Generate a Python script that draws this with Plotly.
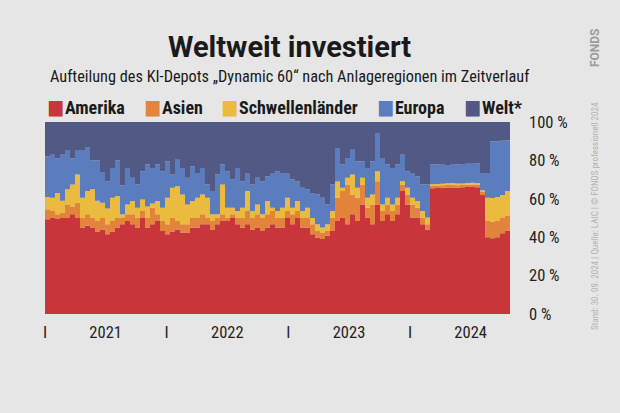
import plotly.graph_objects as go
import pandas as pd

# Shares (%) per region, half-monthly steps from Jan 2021
amerika = [49.3, 50.0, 49.5, 50.0, 50.0, 52.0, 50.0, 45.0, 46.0, 45.0,
           43.0, 44.0, 41.5, 43.0, 45.0, 46.7, 48.4, 46.7, 45.0, 50.0,
           45.0, 46.7, 48.4, 43.2, 41.5, 43.0, 44.0, 42.4, 42.4, 45.0,
           45.0, 46.7, 46.7, 44.0, 46.7, 48.4, 48.4, 50.0, 46.7, 45.0,
           46.7, 44.0, 45.0, 43.2, 45.0, 46.7, 45.0, 45.0, 50.0, 46.7,
           50.0, 45.0, 45.0, 41.5, 39.8, 39.0, 40.7, 43.2, 48.4, 50.0,
           46.7, 52.0, 48.4, 57.0, 50.2, 46.7, 57.0, 48.4, 52.0, 48.4,
           52.0, 64.0, 57.0, 50.2, 50.2, 46.7, 44.0, 65.5, 65.6, 65.8,
           65.9, 65.9, 65.8, 66.0, 66.1, 66.1, 66.0, 62.0, 40.0, 39.5,
           40.0, 42.0, 43.5, 45.0]
asien = [5.2, 3.6, 2.5, 2.8, 7.0, 4.0, 8.0, 5.0, 6.0, 5.0,
         5.4, 6.0, 5.2, 5.4, 5.0, 3.3, 3.6, 5.3, 5.0, 3.6,
         5.0, 8.7, 3.6, 5.2, 5.2, 7.0, 4.4, 4.3, 4.3, 5.0,
         5.0, 5.3, 3.3, 4.4, 3.3, 3.6, 1.6, 2.0, 3.3, 5.0,
         6.9, 6.0, 7.0, 6.8, 7.0, 6.9, 5.0, 5.0, 3.6, 5.3,
         3.6, 5.0, 5.0, 5.2, 3.4, 3.4, 2.5, 6.8, 12.1, 14.0,
         20.8, 10.3, 12.1, 10.5, 5.2, 10.3, 12.2, 5.2, 5.0, 5.2,
         5.0, 3.5, 5.3, 6.8, 5.2, 3.5, 2.7, 1.3, 1.3, 1.2,
         1.3, 1.4, 1.3, 1.2, 1.2, 1.3, 1.3, 1.5, 8.4, 8.5,
         8.5, 8.0, 7.5, 7.0]
schwellen = [6.5, 6.9, 11.0, 6.2, 8.0, 11.5, 14.7, 10.5, 12.0, 15.0,
             10.6, 8.0, 8.3, 12.1, 11.4, 2.0, 5.0, 6.8, 5.4, 6.1,
             6.0, 2.1, 6.8, 7.0, 13.8, 15.7, 18.2, 15.6, 10.3, 8.8,
             10.5, 10.3, 10.5, 3.6, 2.0, 15.5, 5.4, 3.4, 3.6, 5.4,
             10.4, 3.6, 5.0, 2.0, 6.8, 1.8, 3.6, 5.4, 6.9, 3.4,
             5.2, 3.6, 5.4, 3.3, 3.5, 2.6, 3.5, 3.6, 8.5, 1.7,
             3.5, 10.4, 5.2, 3.5, 5.1, 5.3, 5.2, 3.4, 3.5, 3.4,
             3.5, 1.7, 3.4, 3.5, 3.4, 3.4, 3.5, 0.8, 0.8, 0.9,
             0.9, 0.9, 0.9, 0.8, 0.9, 0.9, 0.9, 1.0, 12.1, 12.4,
             12.5, 12.0, 13.0, 14.0]
europa = [21.0, 22.5, 18.0, 24.0, 20.0, 13.5, 12.3, 24.5, 23.0, 15.0,
          21.0, 16.0, 14.0, 15.5, 18.6, 15.0, 19.0, 12.2, 12.1, 14.7,
          21.9, 18.5, 19.2, 19.0, 19.1, 7.0, 13.8, 13.7, 14.0, 18.2,
          13.0, 13.7, 7.0, 12.0, 20.7, 10.4, 19.0, 14.6, 22.4, 13.6,
          9.5, 13.9, 14.0, 17.0, 13.0, 18.1, 20.8, 18.1, 13.0, 14.6,
          10.2, 12.1, 9.6, 13.0, 15.6, 15.5, 10.3, 13.9, 17.5, 12.2,
          10.3, 12.9, 13.9, 8.6, 15.5, 17.3, 19.9, 24.3, 17.4, 19.0,
          17.4, 13.8, 8.7, 13.0, 13.0, 13.9, 17.3, 10.3, 10.2, 9.8,
          9.5, 9.5, 9.9, 10.1, 10.0, 10.0, 10.3, 9.0, 13.0, 29.6,
          29.0, 28.2, 26.5, 24.5]
welt = [18.0, 17.0, 19.0, 17.0, 15.0, 19.0, 15.0, 15.0, 13.0, 20.0,
        20.0, 26.0, 31.0, 24.0, 20.0, 33.0, 24.0, 29.0, 32.5, 25.6,
        22.1, 24.0, 22.0, 25.6, 20.4, 27.3, 19.6, 24.0, 29.0, 23.0,
        26.5, 24.0, 32.5, 36.0, 27.3, 22.1, 25.6, 30.0, 24.0, 31.0,
        26.5, 32.5, 29.0, 31.0, 28.2, 26.5, 25.6, 26.5, 26.5, 30.0,
        31.0, 34.3, 35.0, 37.0, 37.7, 39.5, 43.0, 32.5, 13.5, 22.1,
        18.7, 14.4, 20.4, 20.4, 24.0, 20.4, 5.7, 18.7, 22.1, 24.0,
        22.1, 17.0, 25.6, 26.5, 28.2, 32.5, 32.5, 22.1, 22.1, 22.3,
        22.4, 22.3, 22.1, 21.9, 21.8, 21.7, 21.5, 26.5, 26.5, 10.0,
        10.0, 9.8, 9.5, 9.5]

dates = pd.date_range("2021-01-01", periods=len(amerika), freq="15D")

names = ["Amerika", "Asien", "Schwellenländer", "Europa", "Welt*"]
values = [amerika, asien, schwellen, europa, welt]
colors = ["#c8353a", "#e3843d", "#ebbb40", "#5b7dbd", "#525984"]

x_tickvals = ["2021-01-01", "2021-07-02", "2022-01-01", "2022-07-02",
              "2023-01-01", "2023-07-02", "2024-01-01", "2024-07-01"]
x_ticklabels = ["I", "2021", "I", "2022", "I", "2023", "I", "2024"]
y_tickvals = [0, 20, 40, 60, 80, 100]
y_ticklabels = ["0 %", "20 %", "40 %", "60 %", "80 %", "100 %"]

COND = "Roboto Condensed, DejaVu Sans Condensed, sans-serif"
BG = "#e6e6e6"

fig = go.Figure()
for name, vals, col in zip(names, values, colors):
    fig.add_trace(go.Scatter(
        x=dates, y=vals, name=name, mode="lines", stackgroup="one",
        line=dict(width=0, shape="hv", color=col), fillcolor=col,
        showlegend=False))

fig.update_layout(
    width=620, height=413,
    margin=dict(l=45, r=110, t=122, b=99),
    paper_bgcolor=BG, plot_bgcolor=BG,
    xaxis=dict(type="date", range=[dates[0], dates[-1]],
               tickvals=x_tickvals, ticktext=x_ticklabels,
               showgrid=False, zeroline=False, showline=False, ticks="",
               tickfont=dict(family=COND, size=16.5, color="#222222"),
               ticklabelstandoff=6),
    yaxis=dict(range=[0, 100], side="right",
               tickvals=y_tickvals, ticktext=y_ticklabels,
               showgrid=False, zeroline=False, showline=False, ticks="",
               tickfont=dict(family=COND, size=16.5, color="#222222"),
               ticklabelstandoff=18),
)


def py(ypx):
    return (314 - ypx) / 192.0


def px(xpx):
    return (xpx - 45) / 465.0


ann = []
ann.append(dict(text="<b>Weltweit investiert</b>", x=px(289), y=py(47),
                xref="paper", yref="paper", xanchor="center", yanchor="middle",
                showarrow=False,
                font=dict(family="Roboto, Inter, sans-serif", size=29,
                          color="#1a1a1a", weight=900)))
ann.append(dict(text="Aufteilung des KI-Depots „Dynamic 60“ nach Anlageregionen im Zeitverlauf",
                x=px(289), y=py(76), xref="paper", yref="paper",
                xanchor="center", yanchor="middle", showarrow=False,
                font=dict(family=COND, size=16.3, color="#1a1a1a")))
leg_x = [45, 142, 219, 375, 462]
for name, col, lx in zip(names, colors, leg_x):
    ann.append(dict(text=(f'<span style="color:{col};font-size:20px">■</span>'
                          f'<span style="font-size:4px"> </span><b>{name}</b>'),
                    x=px(lx), y=py(107), xref="paper", yref="paper",
                    xanchor="left", yanchor="middle", showarrow=False,
                    font=dict(family=COND, size=18, color="#1a1a1a")))
ann.append(dict(text="<b>FONDS</b>", x=px(595), y=py(48), xref="paper", yref="paper",
                xanchor="center", yanchor="middle", textangle=-90, showarrow=False,
                font=dict(family="Roboto, sans-serif", size=12, color="#9c9c9c")))
ann.append(dict(text="Stand: 30. 09. 2024 | Quelle: LAIC | © FONDS professionell 2024",
                x=px(595), y=py(216), xref="paper", yref="paper",
                xanchor="center", yanchor="middle", textangle=-90, showarrow=False,
                font=dict(family=COND, size=9, color="#b2b2b2")))
fig.update_layout(annotations=ann)

fig.write_html("out.html", config={"displayModeBar": False},
               post_script="document.body.style.margin='0';document.body.style.padding='0';document.body.style.overflow='hidden';")
